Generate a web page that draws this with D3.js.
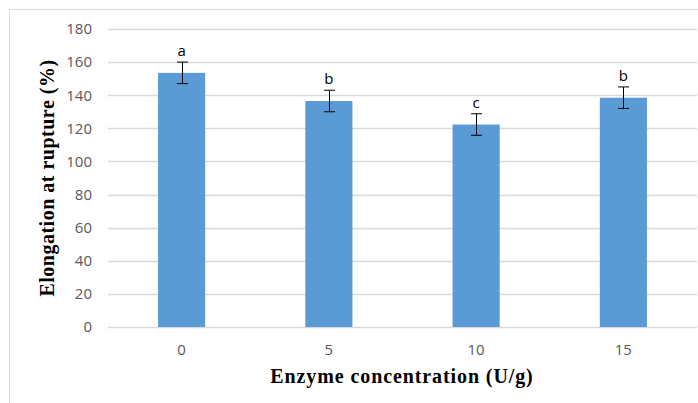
<!DOCTYPE html>
<html>
<head>
<meta charset="utf-8">
<script src="https://cdn.jsdelivr.net/npm/d3@7"></script>
<style>
  body { margin: 0; background: #fff; }
  svg { display: block; }
</style>
</head>
<body>
<div id="svg-container"></div>
<script>
let concentrations = ['0', '5', '10', '15'];
let elongation = [153.5, 136.5, 122.3, 138.5];
let errors = [6.5, 6.5, 6.5, 6.5];
let letters = ['a', 'b', 'c', 'b'];
let yTicks = [0, 20, 40, 60, 80, 100, 120, 140, 160, 180];

let w = 698;
let h = 403;

let svg = d3.select('#svg-container').
append('svg').
attr('width', w).
attr('height', h);

// outer chart frame
svg.append('rect').
attr('x', 9.5).
attr('y', 9.5).
attr('width', 700).
attr('height', 400).
attr('fill', 'none').
attr('stroke', '#d9d9d9');

let x = d3.scaleBand().
domain(concentrations).
range([108, 697]).
paddingInner(0.68).
paddingOuter(0.34);

let y = d3.scaleLinear().
domain([0, 180]).
range([327, 29]);

// gridlines
svg.append('g').selectAll('line').
data(yTicks).
enter().
append('line').
attr('x1', 108).
attr('x2', 697).
attr('y1', d => Math.round(y(d)) + 0.5).
attr('y2', d => Math.round(y(d)) + 0.5).
attr('stroke', '#d9d9d9').
attr('stroke-width', 1.3);

// y axis labels
let yAxis = d3.axisLeft(y).tickValues(yTicks).tickSize(0).tickPadding(0);
let gy = svg.append('g').
attr('transform', 'translate(92,0)').
call(yAxis);
gy.select('.domain').remove();
gy.selectAll('text').
attr('fill', '#595959').
style('font-family', 'Open Sans, Liberation Sans, sans-serif').
style('font-size', '15px');

// x axis labels
let xAxis = d3.axisBottom(x).tickSize(0).tickPadding(0);
let gx = svg.append('g').
attr('transform', 'translate(0,344)').
call(xAxis);
gx.select('.domain').remove();
gx.selectAll('text').
attr('fill', '#595959').
style('font-family', 'Open Sans, Liberation Sans, sans-serif').
style('font-size', '15px');

// bars
svg.append('g').selectAll('rect').
data(elongation).
enter().
append('rect').
attr('x', (d, i) => x(concentrations[i])).
attr('y', d => y(d)).
attr('width', x.bandwidth()).
attr('height', d => y(0) - y(d)).
attr('fill', '#5b9bd5');

// error bars
let err = svg.append('g').
attr('stroke', '#000').
attr('stroke-width', 1);
elongation.forEach(function (d, i) {
  let cx = Math.round(x(concentrations[i]) + x.bandwidth() / 2) + 0.5;
  let top = y(d + errors[i]);
  let bot = y(d - errors[i]);
  err.append('line').attr('x1', cx).attr('x2', cx).attr('y1', top).attr('y2', bot);
  err.append('line').attr('x1', cx - 5.5).attr('x2', cx + 5.5).attr('y1', top).attr('y2', top);
  err.append('line').attr('x1', cx - 5.5).attr('x2', cx + 5.5).attr('y1', bot).attr('y2', bot);
});

// significance letters
svg.append('g').selectAll('text').
data(letters).
enter().
append('text').
attr('x', (d, i) => x(concentrations[i]) + x.bandwidth() / 2).
attr('y', (d, i) => y(elongation[i] + errors[i]) - 6).
attr('text-anchor', 'middle').
attr('fill', '#000').
style('font-family', 'Open Sans, Liberation Sans, sans-serif').
style('font-size', '15px').
text(d => d);

// axis titles
svg.append('text').
attr('x', 402).
attr('y', 383).
attr('text-anchor', 'middle').
style('font-family', 'Liberation Serif, Times New Roman, serif').
style('font-weight', 'bold').
style('font-size', '20px').
style('letter-spacing', '0.9px').
text('Enzyme concentration (U/g)');

svg.append('text').
attr('transform', 'translate(54,178) rotate(-90)').
attr('text-anchor', 'middle').
style('font-family', 'Liberation Serif, Times New Roman, serif').
style('font-weight', 'bold').
style('font-size', '20px').
style('letter-spacing', '0.5px').
text('Elongation at rupture (%)');
</script>
</body>
</html>
